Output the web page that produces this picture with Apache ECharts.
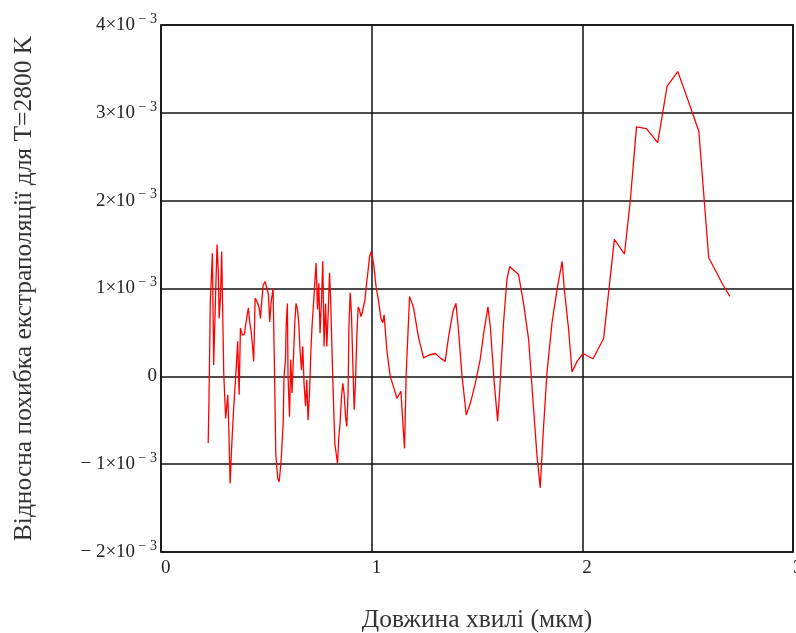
<!DOCTYPE html>
<html>
<head>
<meta charset="utf-8">
<script src="https://cdn.jsdelivr.net/npm/echarts@6/dist/echarts.min.js"></script>
<style>
html,body{margin:0;padding:0;background:#fff;}
#chart{width:796px;height:633px;}
</style>
</head>
<body>
<div id="chart"></div>
<script>
// wavelength, µm
const wavelength = [
0.224,0.228,0.234,0.244,0.250,0.257,0.266,0.272,0.276,0.282,0.288,0.298,0.307,0.317,0.323,0.328,0.336,0.345,0.352,0.358,
0.364,0.371,0.377,0.386,0.396,0.402,0.409,0.415,0.421,0.428,0.434,0.440,0.447,0.456,0.466,0.472,0.478,0.485,0.494,0.500,
0.510,0.516,0.523,0.532,0.538,0.545,0.554,0.561,0.570,0.580,0.584,0.591,0.594,0.600,0.603,0.610,0.616,0.622,0.629,0.635,
0.641,0.648,0.654,0.660,0.667,0.673,0.679,0.686,0.692,0.698,0.705,0.711,0.717,0.724,0.730,0.736,0.743,0.749,0.755,0.762,
0.768,0.774,0.781,0.787,0.793,0.800,0.806,0.812,0.819,0.825,0.831,0.838,0.844,0.850,0.857,0.863,0.869,0.876,0.882,0.888,
0.892,0.898,0.904,0.911,0.917,0.923,0.930,0.936,0.942,0.949,0.955,0.961,0.968,0.974,0.980,0.990,0.998,
1.009,1.021,1.032,1.044,1.053,1.059,1.072,1.088,1.104,1.120,1.139,1.148,1.156,1.164,1.180,1.199,1.222,1.246,1.270,1.302,
1.325,1.349,1.365,1.386,1.400,1.412,1.429,1.449,1.468,1.492,1.515,1.534,1.552,1.563,1.582,1.598,1.607,1.626,1.642,1.655,
1.697,1.721,1.745,1.769,1.785,1.800,1.813,1.832,1.856,1.880,1.904,1.914,1.935,1.951,1.975,2.003,2.051,2.101,2.152,2.200,
2.228,2.257,2.304,2.358,2.402,2.453,2.489,2.553,2.600,2.668,2.700
];
// relative extrapolation error for T=2800 K, in units of 10^-3
const relErrorE3 = [
-0.76,-0.23,0.85,1.40,0.13,0.74,1.50,1.19,0.66,0.89,1.42,0.02,-0.48,-0.21,-0.70,-1.22,-0.78,-0.36,-0.10,0.13,
0.40,-0.21,0.55,0.47,0.48,0.59,0.70,0.78,0.62,0.51,0.36,0.17,0.89,0.85,0.78,0.66,0.85,1.04,1.08,1.10,
0.93,0.62,0.85,1.00,0.17,-0.89,-1.16,-1.20,-0.97,-0.53,0.00,0.19,0.57,0.83,0.00,-0.46,0.19,-0.19,0.23,0.61,
0.83,0.76,0.61,0.30,0.07,0.34,-0.08,-0.34,-0.04,-0.50,-0.19,0.26,0.57,0.83,1.06,1.29,0.76,1.06,0.49,0.87,
1.31,0.34,0.83,0.34,0.68,1.18,0.83,0.26,-0.31,-0.76,-0.87,-0.99,-0.69,-0.53,-0.23,-0.08,-0.19,-0.46,-0.57,-0.19,
0.57,0.95,0.72,0.11,-0.38,-0.08,0.49,0.79,0.76,0.68,0.72,0.79,0.87,1.02,1.14,1.36,1.42,
1.29,1.02,0.87,0.66,0.61,0.70,0.30,0.00,-0.12,-0.25,-0.17,-0.53,-0.82,0.04,0.91,0.78,0.45,0.21,0.24,0.26,
0.21,0.17,0.45,0.74,0.83,0.53,0.00,-0.44,-0.31,-0.08,0.19,0.53,0.79,0.57,-0.08,-0.51,-0.19,0.61,1.10,1.25,
1.16,0.83,0.42,-0.38,-0.91,-1.27,-0.69,0.04,0.61,0.99,1.31,1.00,0.53,0.05,0.17,0.26,0.20,0.43,1.56,1.39,
2.01,2.84,2.82,2.66,3.30,3.47,3.23,2.79,1.35,1.04,0.91
];
const xTicks = [0, 1, 2, 3];
const yTicksE3 = [-2, -1, 0, 1, 2, 3, 4];
const xTitle = 'Довжина хвилі (мкм)';
const yTitle = 'Відносна похибка екстраполяції для T=2800 K';

const serif = '"Liberation Serif","DejaVu Serif",serif';
const chart = echarts.init(document.getElementById('chart'));
chart.setOption({
  animation: false,
  backgroundColor: '#fff',
  grid: {left: 161, right: 3, top: 25, bottom: 81, containLabel: false, outerBoundsMode: 'none',
         show: true, borderColor: '#444', borderWidth: 2, backgroundColor: 'transparent'},
  xAxis: {
    type: 'value', min: xTicks[0], max: xTicks[xTicks.length-1], interval: 1,
    name: xTitle, nameLocation: 'middle', nameGap: 55,
    nameTextStyle: {fontFamily: serif, fontSize: 25.5, color: '#333'},
    axisLine: {show: false}, axisTick: {show: false},
    axisLabel: {fontFamily: serif, fontSize: 19, color: '#222', margin: 7, align: 'left'},
    splitLine: {show: true, lineStyle: {color: '#111', width: 1.5}}
  },
  yAxis: {
    type: 'value', min: yTicksE3[0], max: yTicksE3[yTicksE3.length-1], interval: 1,
    name: yTitle, nameLocation: 'middle', nameGap: 124,
    nameTextStyle: {fontFamily: serif, fontSize: 25.5, color: '#333'},
    axisLine: {show: false}, axisTick: {show: false},
    axisLabel: {
      margin: 4,
      formatter: function (v) {
        if (v === 0) return '{n|0}';
        const m = v < 0 ? '− ' + (-v) : String(v);
        return '{n|' + m + '×10}{s| − 3}';
      },
      rich: {
        n: {fontFamily: serif, fontSize: 19, color: '#222'},
        s: {fontFamily: serif, fontSize: 14, color: '#222', padding: [0, 0, 12, 0]}
      }
    },
    splitLine: {show: true, lineStyle: {color: '#111', width: 1.5}}
  },
  series: [{
    type: 'line',
    data: wavelength.map((x, i) => [x, relErrorE3[i]]),
    showSymbol: false, symbol: 'none',
    lineStyle: {color: '#ff0000', width: 1.3},
    z: 5
  }]
});
</script>
</body>
</html>
